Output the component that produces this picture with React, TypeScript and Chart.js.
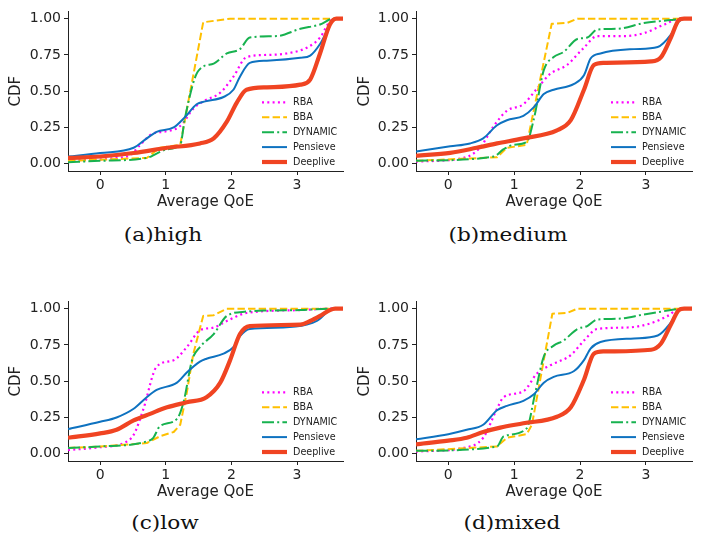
import React, { useEffect, useRef } from 'react';
import { Chart, registerables } from 'chart.js';
Chart.register(...registerables);

const SERIES_NAMES = ['RBA', 'BBA', 'DYNAMIC', 'Pensieve', 'Deeplive'];
const X_TICKS = [0, 1, 2, 3];
const Y_TICKS = [0, 0.25, 0.5, 0.75, 1];
const X_MIN = -0.49;
const X_MAX = 3.7;

// ---- (a) high ----
const highRBA = [[-0.49,0.02],[0.25,0.04],[0.46,0.06],[0.61,0.13],[0.81,0.21],[0.96,0.22],[1.22,0.26],[1.42,0.38],[1.57,0.43],[1.83,0.49],[2.03,0.60],[2.23,0.735],[2.54,0.75],[2.84,0.76],[3.15,0.80],[3.35,0.87],[3.5,0.98],[3.6,1.0],[3.7,1.0]];
const highBBA = [[-0.49,0.02],[0.71,0.04],[0.91,0.11],[1.22,0.13],[1.57,0.975],[1.98,1.0],[3.7,1.0]];
const highDYNAMIC = [[-0.49,0.01],[0,0.02],[0.71,0.04],[0.86,0.07],[1.02,0.10],[1.22,0.13],[1.29,0.31],[1.45,0.60],[1.57,0.67],[1.73,0.69],[1.93,0.76],[2.13,0.79],[2.28,0.87],[2.69,0.88],[3.05,0.93],[3.35,0.96],[3.55,1.0],[3.7,1.0]];
const highPensieve = [[-0.49,0.05],[0,0.074],[0.51,0.11],[0.71,0.175],[0.86,0.22],[1.12,0.25],[1.29,0.32],[1.47,0.41],[1.6,0.43],[1.88,0.46],[2.03,0.51],[2.13,0.60],[2.28,0.695],[2.54,0.71],[3.05,0.73],[3.2,0.745],[3.35,0.825],[3.55,0.99],[3.6,1.0],[3.7,1.0]];
const highDeeplive = [[-0.49,0.04],[0,0.05],[0.51,0.074],[1.02,0.11],[1.52,0.14],[1.73,0.175],[1.93,0.29],[2.08,0.42],[2.23,0.51],[2.54,0.527],[3.05,0.545],[3.2,0.58],[3.35,0.76],[3.5,0.96],[3.6,1.0],[3.7,1.0]];

// ---- (b) medium ----
const mediumRBA = [[-0.49,0.015],[0.23,0.04],[0.48,0.11],[0.69,0.26],[0.89,0.365],[1.14,0.41],[1.35,0.52],[1.55,0.62],[1.8,0.68],[2.06,0.80],[2.26,0.88],[2.67,0.88],[2.97,0.90],[3.28,0.96],[3.52,1.0],[3.7,1.0]];
const mediumBBA = [[-0.49,0.02],[0.74,0.045],[0.89,0.11],[1.19,0.13],[1.57,0.965],[1.8,0.97],[1.96,1.0],[3.7,1.0]];
const mediumDYNAMIC = [[-0.49,0.02],[0.69,0.05],[0.84,0.10],[0.99,0.13],[1.19,0.15],[1.3,0.31],[1.45,0.645],[1.6,0.735],[1.75,0.77],[1.96,0.86],[2.11,0.87],[2.26,0.925],[2.57,0.93],[2.97,0.97],[3.38,0.99],[3.55,1.0],[3.7,1.0]];
const mediumPensieve = [[-0.49,0.085],[0.03,0.12],[0.33,0.14],[0.53,0.175],[0.74,0.265],[0.89,0.30],[1.14,0.33],[1.3,0.39],[1.45,0.48],[1.6,0.51],[1.91,0.55],[2.06,0.61],[2.16,0.725],[2.31,0.76],[2.82,0.79],[3.18,0.805],[3.38,0.89],[3.5,0.98],[3.58,1.0],[3.7,1.0]];
const mediumDeeplive = [[-0.49,0.055],[0.03,0.075],[0.43,0.11],[0.74,0.14],[1.14,0.175],[1.65,0.23],[1.86,0.30],[2.06,0.51],[2.21,0.68],[2.36,0.695],[3.08,0.705],[3.23,0.735],[3.38,0.87],[3.5,0.99],[3.58,1.0],[3.7,1.0]];

// ---- (c) low ----
const lowRBA = [[-0.49,0.025],[0,0.045],[0.36,0.074],[0.51,0.13],[0.66,0.31],[0.86,0.60],[1.12,0.645],[1.32,0.735],[1.52,0.85],[1.73,0.87],[1.93,0.915],[2.23,0.97],[3.05,0.99],[3.5,1.0],[3.7,1.0]];
const lowBBA = [[-0.49,0.04],[0,0.05],[0.41,0.063],[0.71,0.074],[0.91,0.12],[1.12,0.15],[1.22,0.20],[1.32,0.42],[1.42,0.69],[1.57,0.95],[1.73,0.955],[1.93,1.0],[3.7,1.0]];
const lowDYNAMIC = [[-0.49,0.04],[0,0.05],[0.71,0.085],[0.81,0.11],[0.91,0.19],[1.17,0.24],[1.27,0.355],[1.4,0.645],[1.52,0.735],[1.73,0.825],[1.93,0.95],[2.23,0.98],[2.54,0.987],[3.05,0.99],[3.5,1.0],[3.7,1.0]];
const lowPensieve = [[-0.49,0.17],[0,0.22],[0.25,0.25],[0.51,0.31],[0.71,0.39],[0.86,0.44],[1.17,0.49],[1.32,0.56],[1.52,0.635],[1.62,0.655],[1.88,0.69],[2.03,0.735],[2.13,0.81],[2.28,0.86],[2.79,0.87],[3.15,0.89],[3.3,0.915],[3.5,0.99],[3.58,1.0],[3.7,1.0]];
const lowDeeplive = [[-0.49,0.11],[0,0.14],[0.25,0.165],[0.51,0.23],[0.76,0.275],[1.02,0.32],[1.32,0.355],[1.62,0.39],[1.83,0.49],[1.98,0.645],[2.13,0.825],[2.28,0.88],[3.05,0.89],[3.2,0.915],[3.35,0.95],[3.5,0.99],[3.58,1.0],[3.7,1.0]];

// ---- (d) mixed ----
const mixedRBA = [[-0.49,0.015],[0.23,0.04],[0.53,0.11],[0.74,0.31],[0.84,0.39],[1.14,0.43],[1.35,0.555],[1.55,0.61],[1.86,0.68],[2.06,0.78],[2.26,0.86],[2.72,0.87],[3.08,0.90],[3.33,0.95],[3.52,1.0],[3.7,1.0]];
const mixedBBA = [[-0.49,0.02],[0.74,0.05],[0.89,0.11],[1.19,0.135],[1.27,0.2],[1.45,0.645],[1.58,0.965],[1.8,0.97],[1.96,1.0],[3.7,1.0]];
const mixedDYNAMIC = [[-0.49,0.02],[0.74,0.05],[0.84,0.12],[1.19,0.175],[1.32,0.42],[1.45,0.67],[1.6,0.745],[1.75,0.78],[1.96,0.86],[2.11,0.88],[2.26,0.925],[2.57,0.93],[2.97,0.96],[3.38,0.99],[3.55,1.0],[3.7,1.0]];
const mixedPensieve = [[-0.49,0.10],[0,0.135],[0.28,0.165],[0.53,0.20],[0.74,0.30],[0.89,0.33],[1.14,0.365],[1.3,0.41],[1.45,0.49],[1.6,0.53],[1.91,0.57],[2.06,0.645],[2.16,0.725],[2.31,0.77],[2.82,0.795],[3.18,0.815],[3.38,0.905],[3.5,0.985],[3.58,1.0],[3.7,1.0]];
const mixedDeeplive = [[-0.49,0.065],[0,0.09],[0.28,0.11],[0.53,0.15],[0.79,0.18],[1.14,0.21],[1.65,0.255],[1.86,0.32],[2.06,0.51],[2.21,0.69],[2.36,0.705],[3.08,0.717],[3.23,0.76],[3.38,0.89],[3.5,0.99],[3.58,1.0],[3.7,1.0]];

const STYLES = [
  { color: '#ff00ff', width: 2.2, dash: [2, 3.3], smooth: true },
  { color: '#ffc000', width: 2, dash: [7.4, 3.2], smooth: false },
  { color: '#17b24f', width: 2, dash: [12, 3.2, 2, 3.2], smooth: true },
  { color: '#0e72c0', width: 2, dash: [], smooth: true },
  { color: '#f04422', width: 4.2, dash: [], smooth: true },
];

const FONT = "'DejaVu Sans', sans-serif";
const INK = '#222';

const insideLegend = {
  id: 'insideLegend',
  afterDatasetsDraw(chart: any) {
    const { ctx, chartArea } = chart;
    ctx.save();
    ctx.font = `9.6px ${FONT}`;
    ctx.textBaseline = 'middle';
    ctx.textAlign = 'left';
    const n = SERIES_NAMES.length;
    for (let i = 0; i < n; i++) {
      const st = STYLES[i];
      const y = chartArea.bottom - 9 - (n - 1 - i) * 14.9;
      const x0 = chartArea.right - 81;
      const x1 = chartArea.right - 56;
      ctx.beginPath();
      ctx.lineWidth = st.width;
      ctx.strokeStyle = st.color;
      ctx.setLineDash(st.dash);
      ctx.lineCap = 'butt';
      ctx.moveTo(x0, y);
      ctx.lineTo(x1, y);
      ctx.stroke();
      ctx.setLineDash([]);
      ctx.fillStyle = INK;
      ctx.fillText(SERIES_NAMES[i], chartArea.right - 50, y + 0.5);
    }
    ctx.restore();
  },
};

type PanelProps = {
  series: number[][][];
  left: number;
  top: number;
  width: number;
  height: number;
  plotLeft: number;
  plotRight: number;
  yTitleX: number;
};

function Panel({ series, left, top, width, height, plotLeft, plotRight, yTitleX }: PanelProps) {
  const ref = useRef<HTMLCanvasElement | null>(null);
  useEffect(() => {
    if (!ref.current) return;
    const chart = new Chart(ref.current, {
      type: 'line',
      data: {
        datasets: series.map((pts, i) => ({
          label: SERIES_NAMES[i],
          data: pts.map(([x, y]) => ({ x, y })),
          borderColor: STYLES[i].color,
          backgroundColor: STYLES[i].color,
          borderWidth: STYLES[i].width,
          borderDash: STYLES[i].dash,
          borderCapStyle: 'butt',
          borderJoinStyle: 'round',
          pointRadius: 0,
          fill: false,
          tension: 0,
          cubicInterpolationMode: STYLES[i].smooth ? 'monotone' : 'default',
          order: SERIES_NAMES.length - 1 - i,
        })),
      },
      options: {
        responsive: false,
        animation: false,
        devicePixelRatio: 1,
        layout: { padding: { left: 0, top: 5, right: width - plotRight, bottom: 0 } },
        plugins: { legend: { display: false }, tooltip: { enabled: false } },
        scales: {
          x: {
            type: 'linear',
            min: X_MIN,
            max: X_MAX,
            afterBuildTicks: (a: any) => { a.ticks = X_TICKS.map((v) => ({ value: v })); },
            afterFit: (a: any) => { a.height = height - 171; },
            ticks: { font: { family: FONT, size: 14 }, color: INK, padding: 2, maxRotation: 0, autoSkip: false, callback: (v: any) => String(v) },
            grid: { drawOnChartArea: false, drawTicks: true, tickLength: 4, color: INK },
            border: { display: true, color: INK, width: 1 },
            title: { display: true, text: 'Average QoE', font: { family: FONT, size: 15 }, color: INK, padding: { top: 0, bottom: 4 } },
          },
          y: {
            type: 'linear',
            min: -0.05,
            max: 1.05,
            afterBuildTicks: (a: any) => { a.ticks = Y_TICKS.map((v) => ({ value: v })); },
            afterFit: (a: any) => { a.width = plotLeft; },
            ticks: { font: { family: FONT, size: 14 }, color: INK, padding: 3, callback: (v: any) => Number(v).toFixed(2) },
            grid: { drawOnChartArea: false, drawTicks: true, tickLength: 4, color: INK },
            border: { display: true, color: INK, width: 1 },
            title: { display: true, text: 'CDF', font: { family: FONT, size: 15 }, color: INK, padding: { top: yTitleX - 9, bottom: 0 } },
          },
        },
      },
      plugins: [insideLegend],
    } as any);
    return () => chart.destroy();
  }, []);
  return (
    <canvas
      ref={ref}
      width={width}
      height={height}
      style={{ position: 'absolute', left, top, width, height }}
    />
  );
}

function Caption({ text, cx, top }: { text: string; cx: number; top: number }) {
  return (
    <div
      style={{
        position: 'absolute',
        left: cx - 100,
        top,
        width: 200,
        textAlign: 'center',
        fontFamily: "'DejaVu Serif', serif",
        fontSize: 18,
        lineHeight: '18px',
        color: '#111',
        transform: 'scaleX(1.2)',
        transformOrigin: 'center',
        whiteSpace: 'nowrap',
      }}
    >
      {text}
    </div>
  );
}

export default function App() {
  return (
    <div style={{ position: 'fixed', left: 0, top: 0, width: 707, height: 537, background: '#fff', overflow: 'hidden' }}>
      <Panel series={[highRBA, highBBA, highDYNAMIC, highPensieve, highDeeplive]} left={0} top={0} width={350} height={215} plotLeft={68} plotRight={343} yTitleX={16} />
      <Panel series={[mediumRBA, mediumBBA, mediumDYNAMIC, mediumPensieve, mediumDeeplive]} left={350} top={0} width={357} height={215} plotLeft={66} plotRight={342} yTitleX={15} />
      <Panel series={[lowRBA, lowBBA, lowDYNAMIC, lowPensieve, lowDeeplive]} left={0} top={290} width={350} height={215} plotLeft={68} plotRight={343} yTitleX={16} />
      <Panel series={[mixedRBA, mixedBBA, mixedDYNAMIC, mixedPensieve, mixedDeeplive]} left={350} top={290} width={357} height={215} plotLeft={66} plotRight={342} yTitleX={15} />
      <Caption text="(a)high" cx={163} top={226} />
      <Caption text="(b)medium" cx={508} top={226} />
      <Caption text="(c)low" cx={165} top={514} />
      <Caption text="(d)mixed" cx={512} top={514} />
    </div>
  );
}
